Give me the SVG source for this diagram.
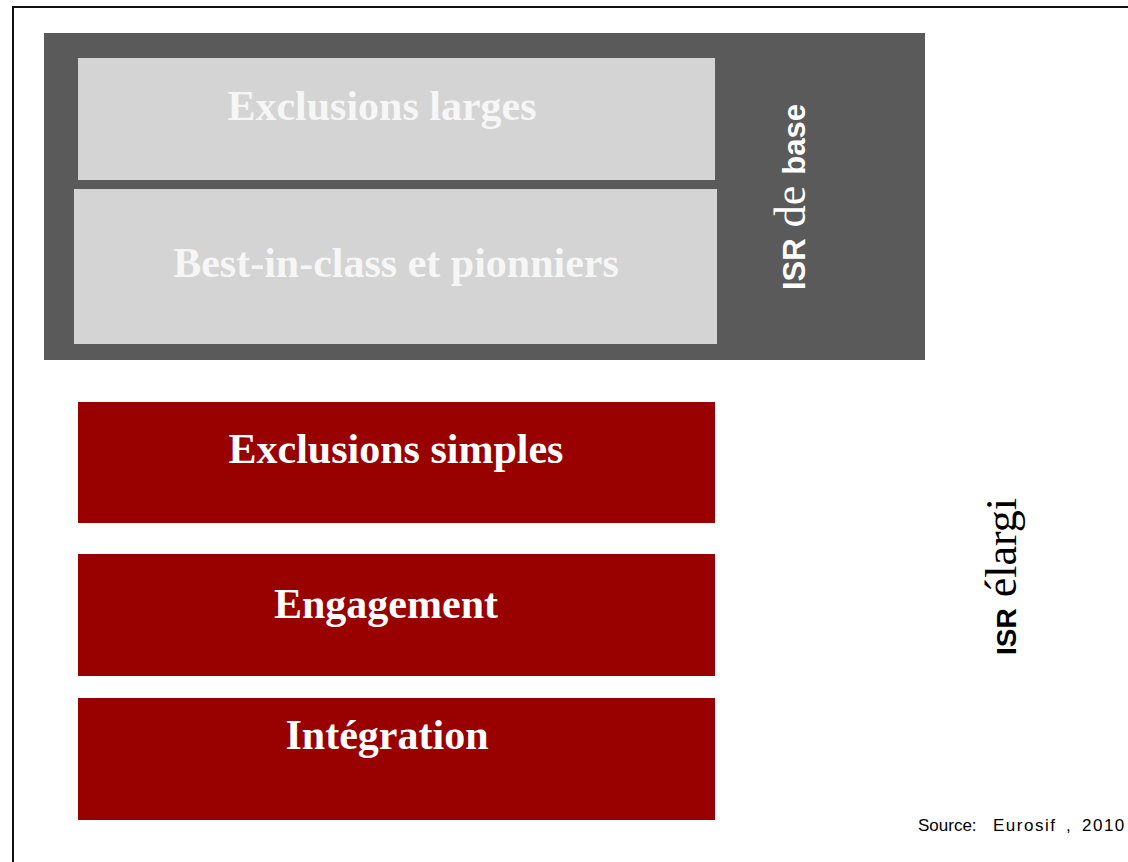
<svg xmlns="http://www.w3.org/2000/svg" width="1128" height="862" viewBox="0 0 1128 862">
<style>
.bg{fill:#ffffff}
.frame{fill:none;stroke:#111111;stroke-width:2}
.dark{fill:#5a5a5a}
.light{fill:#d4d4d4}
.red{fill:#990000}
.lbl{font-family:"Liberation Serif","Times New Roman",serif;font-weight:bold;font-size:42px;fill:#ffffff;text-anchor:middle}
.lbl2{font-family:"Liberation Serif","Times New Roman",serif;font-weight:bold;font-size:42px;fill:#f6f6f6;text-anchor:middle}
.sans{font-family:"Liberation Sans",Arial,sans-serif;font-weight:bold}
.serif{font-family:"Liberation Serif","Times New Roman",serif}
.src{font-family:"Liberation Sans",Arial,sans-serif;font-size:17px;fill:#000000}
</style>
<rect class="bg" x="0" y="0" width="1128" height="862"/>
<path class="frame" d="M13,862 V7 H1128"/>
<g id="isr-base">
<rect class="dark" x="44" y="33" width="881" height="327"/>
<text transform="translate(805,290) rotate(-90)" fill="#ffffff" font-size="31"><tspan class="sans">ISR</tspan><tspan class="serif" font-size="44"> de </tspan><tspan class="sans">base</tspan></text>
</g>
<g id="exclusions-larges">
<rect class="light" x="78" y="58" width="637" height="122"/>
<text class="lbl2" x="382" y="120">Exclusions larges</text>
</g>
<g id="best-in-class">
<rect class="light" x="74" y="189" width="643" height="155"/>
<text class="lbl2" x="396" y="277" font-size="43">Best-in-class et pionniers</text>
</g>
<g id="exclusions-simples">
<rect class="red" x="78" y="402" width="637" height="121"/>
<text class="lbl" x="396" y="463">Exclusions simples</text>
</g>
<g id="engagement">
<rect class="red" x="78" y="554" width="637" height="122"/>
<text class="lbl" x="386" y="618">Engagement</text>
</g>
<g id="integration">
<rect class="red" x="78" y="698" width="637" height="122"/>
<text class="lbl" x="387" y="749">Intégration</text>
</g>
<g id="isr-elargi">
<text transform="translate(1016,655) rotate(-90)" fill="#000000" font-size="28"><tspan class="sans">ISR</tspan><tspan class="serif" font-size="44"> élargi</tspan></text>
</g>
<g id="connectors"></g>
<text class="src" y="831"><tspan x="918">Source:</tspan><tspan x="993" letter-spacing="1.5">Eurosif</tspan><tspan x="1066">,</tspan><tspan x="1082" letter-spacing="1.5">2010</tspan></text>
</svg>
